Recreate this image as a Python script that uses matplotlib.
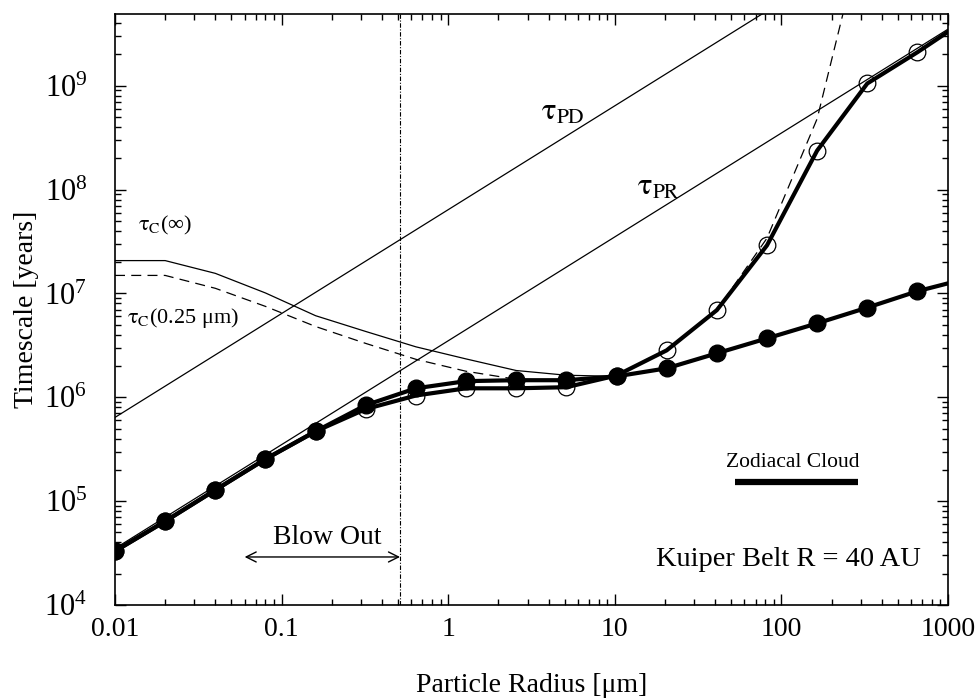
import matplotlib
matplotlib.use("Agg")
import matplotlib.pyplot as plt
from matplotlib.ticker import LogLocator, FixedLocator, FuncFormatter, NullFormatter
import numpy as np

plt.rcParams['font.family'] = ['Liberation Serif', 'DejaVu Serif']
plt.rcParams['mathtext.fontset'] = 'custom'
plt.rcParams['mathtext.rm'] = 'Liberation Serif'
plt.rcParams['mathtext.it'] = 'Liberation Serif:italic'
plt.rcParams['mathtext.bf'] = 'Liberation Serif:bold'

# ---- data ----
radius = [0.01, 0.02, 0.04, 0.08, 0.16, 0.32, 0.64, 1.28, 2.56, 5.12, 10.24,
          20.48, 40.96, 81.92, 163.84, 327.68, 655.36]

# filled circles (thick curve)
t_filled = [3.3e4, 6.4e4, 1.28e5, 2.54e5, 4.7e5, 8.4e5, 1.22e6, 1.43e6, 1.46e6,
            1.46e6, 1.59e6, 1.9e6, 2.65e6, 3.69e6, 5.15e6, 7.3e6, 1.05e7]
filled_end_x = 1000.0
filled_end_y = 1.25e7

# open circles (thick curve)
t_open = [3.3e4, 6.4e4, 1.28e5, 2.54e5, 4.7e5, 7.7e5, 1.04e6, 1.22e6, 1.22e6,
          1.25e6, 1.62e6, 2.83e6, 6.9e6, 2.9e7, 2.37e8, 1.05e9, 2.1e9]
open_end_x = 1000.0
open_end_y = 3.3e9

# tau_c(inf), thin solid
tc_inf_x = [0.01, 0.02, 0.04, 0.08, 0.16, 0.32, 0.64, 1.28, 2.56, 5.12, 10.24]
tc_inf_y = [2.07e7, 2.07e7, 1.56e7, 1.01e7, 6.1e6, 4.3e6, 3.06e6, 2.34e6,
            1.81e6, 1.63e6, 1.59e6]

# tau_c(0.25 um), dashed
tc_025_x = [0.01, 0.02, 0.04, 0.08, 0.16, 0.32, 0.64, 1.28, 2.56, 5.12, 10.24,
            20.48, 40.96, 81.92, 163.84, 234.0, 260.0]
tc_025_y = [1.49e7, 1.49e7, 1.12e7, 7.5e6, 4.8e6, 3.3e6, 2.32e6, 1.78e6,
            1.49e6, 1.46e6, 1.59e6, 2.83e6, 6.9e6, 3.4e7, 4.8e8, 4.9e9, 1.2e10]

# tau_PD and tau_PR (thin straight lines)
pd_x = [0.01, 100.0]
pd_y = [6.4e5, 6.4e9]
pr_x = [0.01, 1000.0]
pr_y = [3.5e4, 3.5e9]

blowout_x = 0.514
blowout_arrow_x = [0.060, 0.514]
zodi_x = [52.7, 288.0]
zodi_y = 1.52e5

xticks = [0.01, 0.1, 1, 10, 100, 1000]
xtick_labels = ['0.01', '0.1', '1', '10', '100', '1000']
yticks = [1e4, 1e5, 1e6, 1e7, 1e8, 1e9]

# ---- figure ----
fig = plt.figure(figsize=(9.8, 6.98), dpi=100)
ax = fig.add_axes([115/980, (698-605)/698, (948-115)/980, (605-14)/698])
ax.set_xscale('log')
ax.set_yscale('log')
ax.set_xlim(0.01, 1000)
ax.set_ylim(1e4, 4.9e9)

thin = 0.9
ax.plot(pd_x, pd_y, color='black', lw=thin)
ax.plot(pr_x, pr_y, color='black', lw=thin)
ax.plot(tc_inf_x, tc_inf_y, color='black', lw=thin)
ax.plot(tc_025_x, tc_025_y, color='black', lw=thin, ls=(0, (8, 5)))
ax.axvline(blowout_x, color='black', lw=0.8, ls=(0, (4, 1.5, 1, 1.5)))

ax.plot(radius + [open_end_x], t_open + [open_end_y], color='black', lw=3.0,
        marker='o', ms=12, mfc='none', mec='black', mew=0.9,
        markevery=list(range(len(radius))), zorder=3)
ax.plot(radius + [filled_end_x], t_filled + [filled_end_y], color='black', lw=3.0,
        marker='o', ms=12, mfc='black', mec='black',
        markevery=list(range(len(radius))), zorder=4)

# annotations
ax.annotate('', xy=(blowout_arrow_x[0], 2.9e4), xytext=(blowout_arrow_x[1], 2.9e4),
            arrowprops=dict(arrowstyle='<->', lw=1.0, color='black',
                            shrinkA=0, shrinkB=0, mutation_scale=18))
ax.text(0.187, 4.5e4, 'Blow Out', fontsize=20, ha='center', va='center')
ax.plot(zodi_x, [zodi_y, zodi_y], color='black', lw=4.5, solid_capstyle='butt')
ax.text(117, 2.37e5, 'Zodiacal Cloud', fontsize=15.5, ha='center', va='center')
ax.text(110, 2.75e4, 'Kuiper Belt R = 40 AU', fontsize=20.5, ha='center', va='center')

ax.text(3.6, 5.5e8, r'$\mathrm{τ}_{\mathrm{PD}}$', fontsize=22, ha='left', va='center',
        math_fontfamily='stix')
ax.text(13.6, 1.05e8, r'$\mathrm{τ}_{\mathrm{PR}}$', fontsize=22, ha='left', va='center',
        math_fontfamily='stix')
ax.text(0.0137, 4.5e7, r'$\mathrm{τ}_{\mathrm{C}}$(∞)', fontsize=16, ha='left', va='center',
        math_fontfamily='stix')
ax.text(0.0118, 5.76e6, r'$\mathrm{τ}_{\mathrm{C}}$(0.25 μm)', fontsize=16, ha='left',
        va='center', math_fontfamily='stix')

# ticks
ax.xaxis.set_major_locator(FixedLocator(xticks))
ax.set_xticklabels(xtick_labels)
ax.xaxis.set_minor_locator(LogLocator(base=10, subs=np.arange(2, 10), numticks=20))
ax.xaxis.set_minor_formatter(NullFormatter())
ax.yaxis.set_major_locator(FixedLocator(yticks))
ax.yaxis.set_major_formatter(FuncFormatter(lambda v, p: r'$10^{%d}$' % int(round(np.log10(v)))))
ax.yaxis.set_minor_locator(LogLocator(base=10, subs=np.arange(2, 10), numticks=20))
ax.yaxis.set_minor_formatter(NullFormatter())
ax.tick_params(which='both', direction='in', top=True, right=True, width=1.0)
ax.tick_params(which='major', length=8)
ax.tick_params(which='minor', length=4)
ax.tick_params(axis='x', which='major', labelsize=20, pad=9)
ax.tick_params(axis='y', which='major', labelsize=22, pad=20)
for s in ax.spines.values():
    s.set_linewidth(1.2)

ax.set_xlabel('Particle Radius [μm]', fontsize=20, labelpad=22)
ax.set_ylabel('Timescale [years]', fontsize=20, labelpad=4)

fig.savefig('out.png', dpi=100)
